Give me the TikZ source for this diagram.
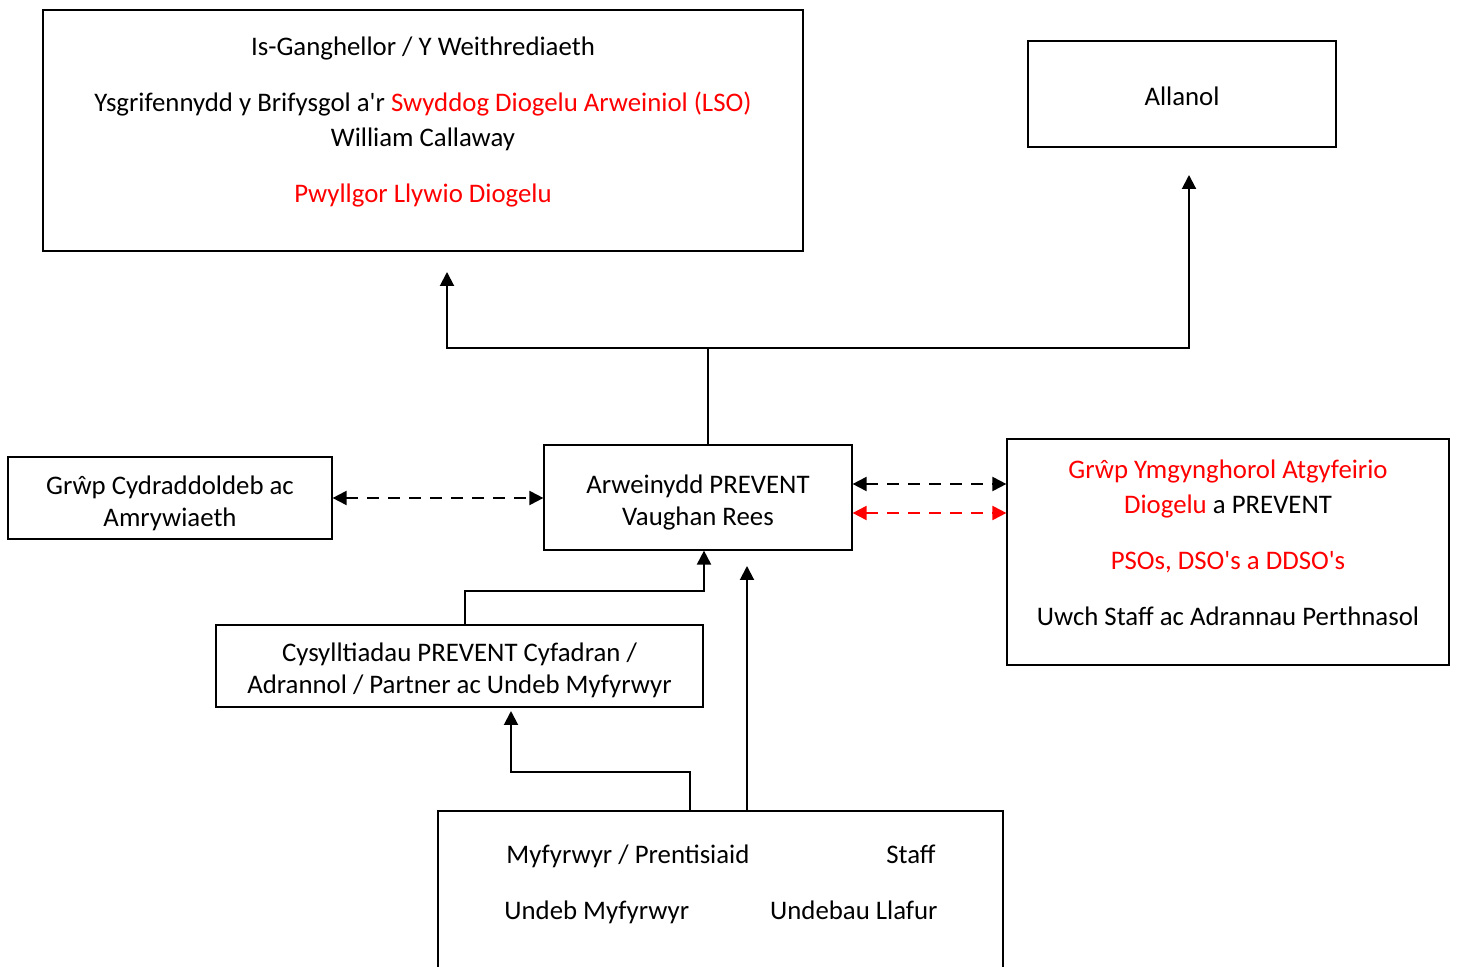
\documentclass[tikz,border=0pt]{standalone}
\usepackage{fontspec}
\setmainfont{Carlito}[Ligatures=TeXOff]
\usetikzlibrary{arrows.meta, positioning, calc}
\newcommand{\boxtext}[2]{\raisebox{#1}[\height][\depth]{\begin{tabular}{@{}c@{}}#2\end{tabular}}}
\tikzset{>={Triangle[length=7pt,width=7pt]}, every node/.style={font=\fontsize{13.4}{17.5}\selectfont}, box/.style={draw, line width=0.6pt, inner sep=0pt}, item/.style={inner sep=0pt}, link/.style={->, line width=1pt}, both/.style={<->, line width=1pt, dash pattern=on 6pt off 4.5pt},}

\begin{document}
\begin{tikzpicture}[x=0.5pt, y=-0.5pt]
        \useasboundingbox (0,0) rectangle (1457,967);
        \clip (0,0) rectangle (1457,967);

        \node[box, minimum width=380pt, minimum height=120.5pt] at (423,130.5) (lead) {\boxtext{4pt}{Is-Ganghellor / Y Weithrediaeth\\[10.5pt] Ysgrifennydd y Brifysgol a'r \textcolor{red}{Swyddog Diogelu Arweiniol (LSO)}\\ William Callaway\\[10.5pt] \textcolor{red}{Pwyllgor Llywio Diogelu}}};
        \node[box, minimum width=154pt, minimum height=53pt] at (1182,94) (ext) {\boxtext{-2.5pt}{Allanol}};
        \node[box, minimum width=162pt, minimum height=41pt] at (170,498) (equal) {\boxtext{-2.75pt}{Grŵp Cydraddoldeb ac\\[-1.5pt] Amrywiaeth}};
        \node[box, minimum width=154pt, minimum height=52.5pt] at (698,497.5) (prevent) {\boxtext{-2.5pt}{Arweinydd PREVENT\\[-1.5pt] Vaughan Rees}};
        \node[box, minimum width=221pt, minimum height=113pt] at (1228,552) (panel) {\boxtext{3.5pt}{\textcolor{red}{Grŵp Ymgynghorol Atgyfeirio}\\ \textcolor{red}{Diogelu} a PREVENT\\[10.5pt] \textcolor{red}{PSOs, DSO's a DDSO's}\\[10.5pt] Uwch Staff ac Adrannau Perthnasol}};
        \node[box, minimum width=243.5pt, minimum height=41pt] at (459.5,666) (links) {\boxtext{-2.5pt}{Cysylltiadau PREVENT Cyfadran /\\[-1.5pt] Adrannol / Partner ac Undeb Myfyrwyr}};
        \node[box, minimum width=282.5pt, minimum height=100pt] at (720.5,911) (base) {};
        \node[item, anchor=base west] at (506,863) (students) {Myfyrwyr / Prentisiaid};
        \node[item, anchor=base east] at (936,863) (staff) {Staff};
        \node[item, anchor=base west] at (504,919) (union) {Undeb Myfyrwyr};
        \node[item, anchor=base east] at (938,919) (trade) {Undebau Llafur};

        \coordinate (hub) at (708,348);
        \coordinate (tipL) at (447,272);
        \coordinate (tipR) at (1189,175);
        \coordinate (upA) at (511,711);
        \coordinate (upB) at (747,566);

        \draw[link, -] (prevent.north -| hub) -- (hub);
        \draw[link] (hub) -| (tipL);
        \draw[link] (hub) -| (tipR);
        \draw[both] (equal.east) -- (equal.east -| prevent.west);
        \draw[both] ([yshift=6.75pt]prevent.east) -- ([yshift=6.75pt]prevent.east -| panel.west);
        \draw[both, red] ([yshift=-7.75pt]prevent.east) -- ([yshift=-7.75pt]prevent.east -| panel.west);
        \draw[link] ([xshift=2.75pt]links.north) -- ++(0,-33) -| ([xshift=3pt]prevent.south);
        \draw[link] (base.north -| upB) -- (upB);
        \draw[link] ([xshift=-15.25pt]base.north) -- ++(0,-38) -| (upA);
    \end{tikzpicture}
\end{document}
